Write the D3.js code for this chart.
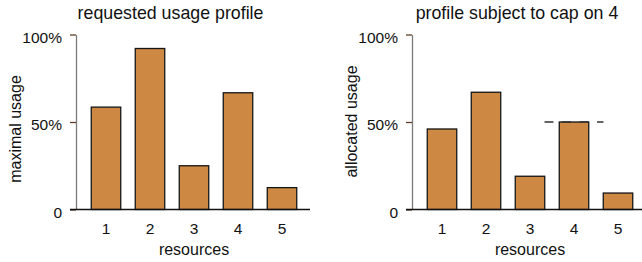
<!DOCTYPE html>
<html><head><meta charset="utf-8">
<script src="https://cdn.jsdelivr.net/npm/d3@7"></script>
<style>body{margin:0;background:#fff}svg{display:block}text{font-family:"Liberation Sans",Arial,sans-serif;fill:#111}</style>
</head><body>
<script>
const categories = ["1","2","3","4","5"];
const requested = [0.585, 0.92, 0.25, 0.667, 0.125];
const allocated = [0.46, 0.67, 0.19, 0.50, 0.094];
const capValue = 0.5;
const capCategory = "4";
const yTickValues = [0, 0.5, 1];
const yTickLabels = ["0", "50%", "100%"];
const titles = ["requested usage profile", "profile subject to cap on 4"];
const yTitles = ["maximal usage", "allocated usage"];
const xTitle = "resources";

const W = 642, H = 262;
const FONT = '"Liberation Sans",Arial,sans-serif';
const svg = d3.select("body").append("svg").attr("width", W).attr("height", H);
const y = d3.scaleLinear().domain([0, 1]).range([209.5, 34.5]);

const panels = [
  {off: 0, values: requested, title: titles[0], ytitle: yTitles[0], titleX: 170.5, ytitleY: 129, cap: false},
  {off: 336, values: allocated, title: titles[1], ytitle: yTitles[1], titleX: 517, ytitleY: 121.5, cap: true}
];

panels.forEach(p => {
  const g = svg.append("g");
  const ax = 76 + p.off;
  const x = d3.scaleBand().domain(categories).range([84 + p.off, 304 + p.off])
    .paddingInner(0.33).paddingOuter(0.165);

  // y axis
  const yAxis = g.append("g").attr("transform", `translate(${ax},0)`)
    .call(d3.axisLeft(y).tickValues(yTickValues).tickFormat((d, i) => yTickLabels[i]).tickSize(6).tickPadding(8).tickSizeOuter(0));
  yAxis.select(".domain").attr("stroke", "#7a7a7a").attr("stroke-width", 1.3);
  yAxis.selectAll(".tick line").attr("stroke", "#5e4128").attr("stroke-width", 1.3);
  yAxis.selectAll(".tick text").attr("font-size", 15.5).attr("fill", "#111").attr("dy", "0.5em")
    .attr("font-family", FONT);

  // bars
  g.selectAll("rect.bar").data(p.values).join("rect").attr("class", "bar")
    .attr("x", (d, i) => x(categories[i]))
    .attr("width", x.bandwidth())
    .attr("y", d => y(d))
    .attr("height", d => y(0) - y(d))
    .attr("fill", "#cd8943").attr("stroke", "#151515").attr("stroke-width", 1.3);

  // x axis (labels only) + baseline
  const xAxis = g.append("g").attr("transform", `translate(0,${y(0)})`)
    .call(d3.axisBottom(x).tickSize(0).tickPadding(13));
  xAxis.select(".domain").remove();
  xAxis.selectAll(".tick text").attr("font-size", 15.5).attr("fill", "#111")
    .attr("font-family", FONT);
  g.append("line").attr("x1", ax - 6).attr("x2", ax + 234).attr("y1", y(0)).attr("y2", y(0))
    .attr("stroke", "#111").attr("stroke-width", 1.3);

  if (p.cap) {
    const cx = x(capCategory) + x.bandwidth() / 2;
    g.append("line").attr("x1", cx - x.bandwidth()).attr("x2", cx + x.bandwidth())
      .attr("y1", y(capValue)).attr("y2", y(capValue))
      .attr("stroke", "#333").attr("stroke-width", 1.6).attr("stroke-dasharray", "9,8.5");
  }

  // titles
  g.append("text").attr("x", p.titleX).attr("y", 19).attr("text-anchor", "middle")
    .attr("font-size", 17.8).text(p.title);
  g.append("text").attr("x", 194 + p.off).attr("y", 254.5).attr("text-anchor", "middle")
    .attr("font-size", 16).text(xTitle);
  g.append("text").attr("transform", `translate(${21 + p.off},${p.ytitleY}) rotate(-90)`)
    .attr("text-anchor", "middle").attr("font-size", 16).text(p.ytitle);
});
</script>
</body></html>
